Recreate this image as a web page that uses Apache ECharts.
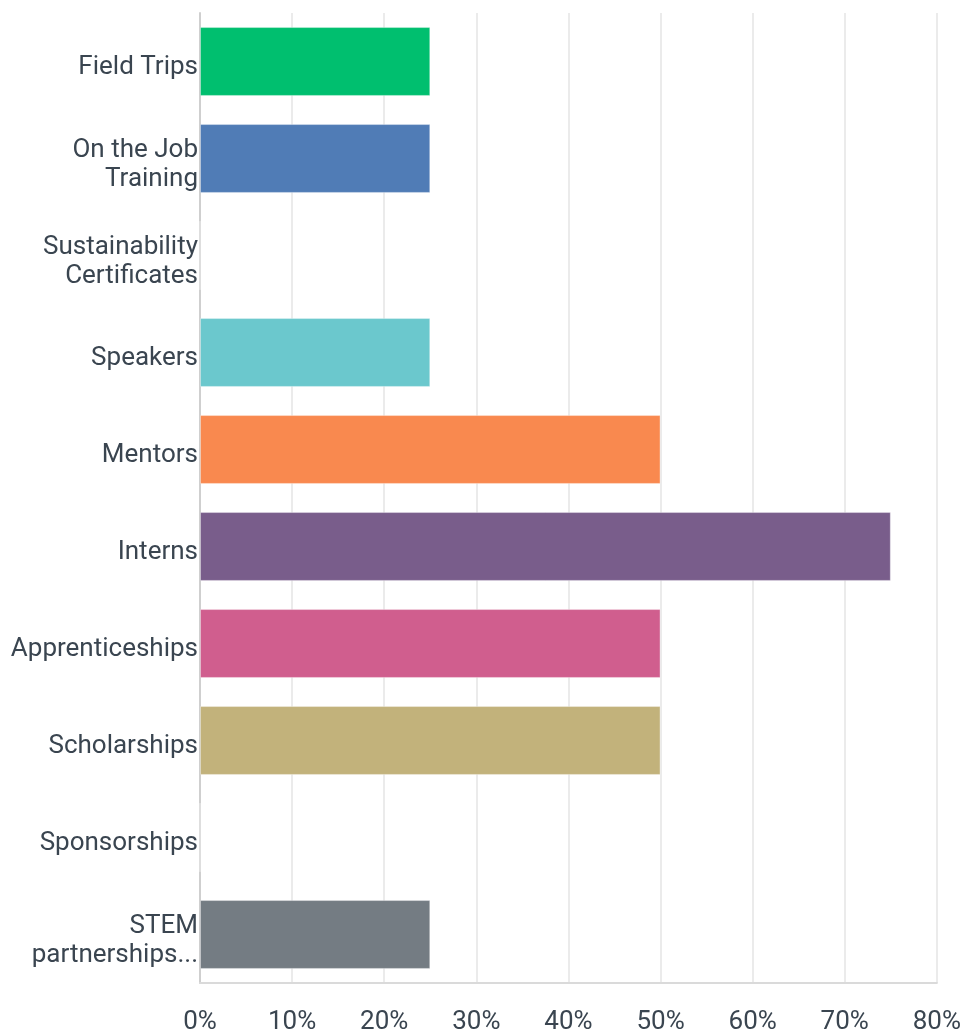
<!DOCTYPE html>
<html>
<head>
<meta charset="utf-8">
<script src="https://cdn.jsdelivr.net/npm/echarts@6/dist/echarts.min.js"></script>
<style>
html,body{margin:0;padding:0;background:#fff;}
#chart{width:964px;height:1035px;}
</style>
</head>
<body>
<div id="chart"></div>
<script>
const categories = [
  "Field Trips",
  "On the Job\nTraining",
  "Sustainability\nCertificates",
  "Speakers",
  "Mentors",
  "Interns",
  "Apprenticeships",
  "Scholarships",
  "Sponsorships",
  "STEM\npartnerships..."
];
const values = [25, 25, 0, 25, 50, 75, 50, 50, 0, 25];
const barColors = ["#00BF6F", "#507CB6", "#6BC8CD", "#6BC8CD", "#F9894F", "#795D8B", "#D05E8E", "#C2B27B", "#9E9E9E", "#747C83"];
const xTickMin = 0, xTickMax = 80, xTickStep = 10;

const labelText = {color: '#3a4550', fontFamily: 'Roboto', fontSize: 26, lineHeight: 29, align: 'right'};

const chart = echarts.init(document.getElementById('chart'), null, {renderer: 'canvas'});
chart.setOption({
  animation: false,
  backgroundColor: '#ffffff',
  grid: {left: 200, right: 23, top: 13, bottom: 51, containLabel: false},
  xAxis: {
    type: 'value',
    min: xTickMin, max: xTickMax, interval: xTickStep,
    axisLine: {show: true, lineStyle: {color: '#dadada', width: 2}},
    axisTick: {show: false},
    splitLine: {show: true, lineStyle: {color: '#ebebeb', width: 2}},
    axisLabel: {
      formatter: '{value}%',
      color: '#3a4550',
      fontFamily: 'Roboto',
      fontSize: 26,
      margin: 26
    }
  },
  yAxis: {
    type: 'category',
    inverse: true,
    data: categories,
    axisLine: {show: true, lineStyle: {color: '#cfcfcf', width: 2}},
    axisTick: {show: false},
    splitLine: {show: false},
    axisLabel: {
      color: '#3a4550',
      fontFamily: 'Roboto',
      fontSize: 26,
      lineHeight: 29,
      margin: 2,
      align: 'right',
      formatter: function (v) {
        return '{s| }\n' + v.split('\n').map(function (l) {
          return '{a|' + l + '}';
        }).join('\n');
      },
      rich: {
        s: {fontSize: 2, lineHeight: 12, align: 'right'},
        a: Object.assign({}, labelText)
      }
    }
  },
  series: [{
    type: 'bar',
    data: values.map((v, i) => ({value: v, itemStyle: {color: barColors[i]}})),
    barCategoryGap: '29%',
    itemStyle: {borderColor: 'rgba(255,255,255,0.35)', borderWidth: 1}
  }]
});
</script>
</body>
</html>
